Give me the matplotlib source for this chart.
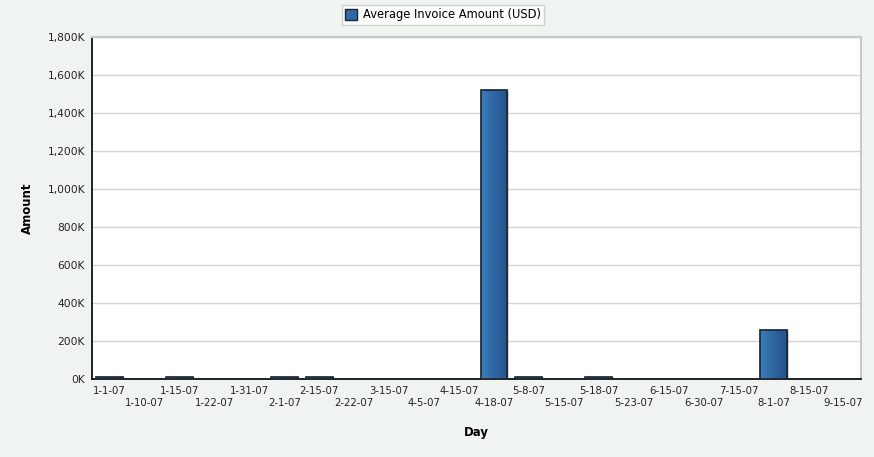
import matplotlib.pyplot as plt
import numpy as np
from matplotlib.patches import Patch
from matplotlib.ticker import FuncFormatter, MultipleLocator

days = ["1-1-07", "1-10-07", "1-15-07", "1-22-07", "1-31-07", "2-1-07",
        "2-15-07", "2-22-07", "3-15-07", "4-5-07", "4-15-07", "4-18-07",
        "5-8-07", "5-15-07", "5-18-07", "5-23-07", "6-15-07", "6-30-07",
        "7-15-07", "8-1-07", "8-15-07", "9-15-07"]
# average invoice amount in thousands of USD
amounts = [9, 0, 9, 0, 0, 8, 9, 0, 0, 0, 0, 1522,
           8, 0, 8, 0, 0, 0, 0, 258, 0, 0]

bg = "#f0f4f0"
fig = plt.figure(figsize=(8.74, 4.57), dpi=100, facecolor=bg)
ax = fig.add_axes([92 / 874, 1 - 379 / 457, (861 - 92) / 874, (379 - 37) / 457])
ax.set_facecolor("white")

x = np.arange(len(days))
vals = np.array(amounts, dtype=float)
keep = vals > 0
bars = ax.bar(x[keep], vals[keep], width=0.77, color="#2f68a3",
              edgecolor="#1b2633", linewidth=1.0, zorder=3)

# shade each bar from lighter left to darker right
grad = np.linspace(0, 1, 64).reshape(1, -1)
cmap = plt.matplotlib.colors.LinearSegmentedColormap.from_list(
    "barshade", ["#3d7dbd", "#2e66a0", "#24538a"])
for b in bars:
    x0, w, h = b.get_x(), b.get_width(), b.get_height()
    im = ax.imshow(grad, cmap=cmap, aspect="auto", extent=(x0, x0 + w, 0, h),
                   zorder=3.5, interpolation="bilinear")
    im.set_clip_path(b)
    ax.add_patch(plt.Rectangle((x0, 0), w, h, fill=False, edgecolor="#1b2633",
                               linewidth=1.2, zorder=4))

ax.set_xlim(-0.5, len(days) - 0.5)
ax.set_ylim(0, 1800)
ax.yaxis.set_major_locator(MultipleLocator(200))
ax.yaxis.set_major_formatter(FuncFormatter(lambda v, p: f"{int(v):,}K"))
ax.grid(axis="y", color="#d4d4d4", linewidth=1.0, zorder=0)
ax.set_axisbelow(True)

# two staggered rows of day labels
ax.set_xticks(x)
ax.set_xticklabels(days)
for i, t in enumerate(ax.xaxis.get_major_ticks()):
    t.set_pad(5 if i % 2 == 0 else 14)
ax.tick_params(axis="x", length=0, labelsize=7.3, labelcolor="#222222")
ax.tick_params(axis="y", length=0, labelsize=7.7, labelcolor="#222222", pad=5)

for side in ("left", "bottom"):
    ax.spines[side].set_color("#111111")
    ax.spines[side].set_linewidth(1.3)
for side in ("top", "right"):
    ax.spines[side].set_color("#c8c8c8")
    ax.spines[side].set_linewidth(1.5)

ax.set_xlabel("Day", fontsize=8.5, fontweight="bold")
ax.set_ylabel("Amount", fontsize=8.5, fontweight="bold")
ax.xaxis.set_label_coords(0.5, -(426 - 379) / 342)
ax.yaxis.set_label_coords(-(92 - 34) / 769, 0.5)

handle = Patch(facecolor="#2f68a3", edgecolor="#1b2633", label="Average Invoice Amount (USD)")
leg = fig.legend(handles=[handle], loc="upper center", bbox_to_anchor=(443 / 874, 1 - 5 / 457),
                 fontsize=8.3, frameon=True, fancybox=False, handlelength=1.0,
                 handleheight=1.0, handletextpad=0.5, borderpad=0.3, borderaxespad=0)
leg.get_frame().set_edgecolor("#c8c8c8")
leg.get_frame().set_linewidth(1.0)

fig.savefig("out.png", dpi=100, facecolor=bg)
